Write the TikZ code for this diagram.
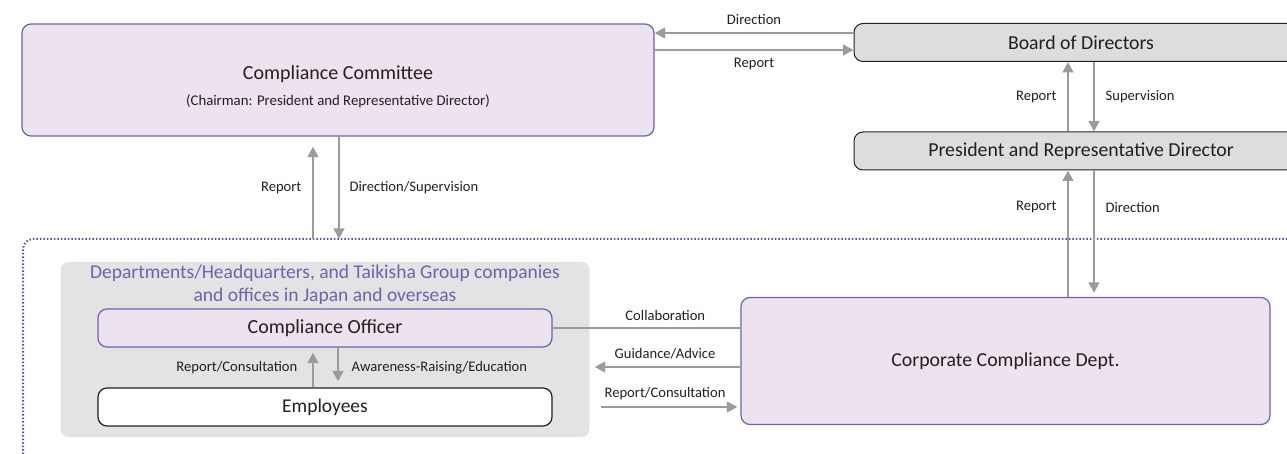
\documentclass[tikz,border=0pt]{standalone}
\usepackage{fontspec}
\setmainfont{Carlito}
\usetikzlibrary{arrows.meta,positioning,calc}
\definecolor{cpurple}{HTML}{EDE3EF}
\definecolor{cline}{HTML}{6B63AE}
\definecolor{cdots}{HTML}{5650A6}
\definecolor{cgray}{HTML}{DDDDDE}
\definecolor{cgroup}{HTML}{E3E3E4}
\definecolor{carrow}{HTML}{9B9B9D}
\definecolor{ctext}{HTML}{231F20}
\tikzset{
  purplebox/.style={rectangle, rounded corners=9, draw=cline, line width=1.2, fill=cpurple, text=ctext},
  graybox/.style={rectangle, rounded corners=9, draw=ctext, line width=1, fill=cgray, text=ctext},
  whitebox/.style={rectangle, rounded corners=9, draw=ctext, line width=1.2, fill=white, text=ctext},
  arr/.style={-{Triangle[width=10.5,length=10.5]}, carrow, line width=2.6},
  lbl/.style={font=\fontsize{14.6}{17}\selectfont, text=ctext},
}
\begin{document}
\begin{tikzpicture}[x=1pt,y=-1pt]
	\useasboundingbox (0,0) rectangle (1287,454);
	\node[purplebox, minimum width=632, minimum height=112, align=center, font=\fontsize{20}{24}\selectfont] (comm) at (338,80) {\rule{0pt}{27pt}Compliance Committee\\[2pt]{\fontsize{14.8}{17}\selectfont (Chairman: President and Representative Director)}};
	\node[graybox, minimum width=454, minimum height=38, font=\fontsize{19.8}{23}\selectfont] (board) at (1081,42.5) {Board of Directors};
	\node[graybox, minimum width=454, minimum height=38, font=\fontsize{19.8}{23}\selectfont] (pres) at (1081,151) {President and Representative Director};
	
	\coordinate (bound) at (23,239);
	\draw[cdots, line width=2, dash pattern=on 1.5pt off 2pt, rounded corners=10] (23,454) -- (bound) -- (1300,239);
	
	\node[rectangle, rounded corners=8, fill=cgroup, minimum width=529, minimum height=175] (group) at (325,349.5) {};
	\node[text=cline, align=center, font=\fontsize{19.5}{23}\selectfont] (grouptitle) at (325,284.5) {Departments/Headquarters, and Taikisha Group companies\\and offices in Japan and overseas};
	\node[purplebox, minimum width=454, minimum height=38, font=\fontsize{20}{23}\selectfont] (officer) at (325,328) {Compliance Officer};
	\node[whitebox, minimum width=454, minimum height=38, font=\fontsize{19.5}{23}\selectfont] (emp) at (325,407) {Employees};
	\node[purplebox, minimum width=529, minimum height=127, font=\fontsize{19.8}{23}\selectfont] (ccd) at (1005.5,361) {Corporate Compliance Dept.};
	
	\draw[arr] ([yshift=9.5]board.west) -- ([yshift=9.5]board.west -| comm.east) node[lbl, midway, above=4pt] {Direction};
	\draw[arr] ([yshift=-7.5]board.west -| comm.east) -- ([yshift=-7.5]board.west) node[lbl, midway, below=4pt] {Report};
	
	\draw[arr] ([xshift=-13]pres.north) -- ([xshift=-13]board.south) node[lbl, midway, left=7pt] {Report};
	\draw[arr] ([xshift=13]board.south) -- ([xshift=13]pres.north) node[lbl, midway, right=7pt] {Supervision};
	\draw[arr] ([xshift=-13]pres.south |- ccd.north) -- ([xshift=-13]pres.south) node[lbl, pos=0.71, left=7pt] {Report};
	\draw[arr, shorten >=4] ([xshift=13]pres.south) -- ([xshift=13]pres.south |- ccd.north) node[lbl, pos=0.29, right=7pt] {Direction};
	
	\draw[arr, shorten >=10] ([xshift=-25]comm.south |- bound) -- ([xshift=-25]comm.south) node[lbl, midway, left=7pt] {Report};
	\draw[arr] ([xshift=1]comm.south) -- ([xshift=1]comm.south |- bound) node[lbl, midway, right=6pt] {Direction/Supervision};
	
	\draw[arr, shorten >=5] ([xshift=-12]emp.north) -- ([xshift=-12]officer.south) node[lbl, midway, left=11pt] {Report/Consultation};
	\draw[arr, shorten >=6] ([xshift=13]officer.south) -- ([xshift=13]emp.north) node[lbl, midway, right=9pt] {Awareness-Raising/Education};
	
	\draw[carrow, line width=2.6] (officer.east) -- (officer.east -| ccd.west) node[lbl, pos=0.6, above=3pt] {Collaboration};
	\draw[arr, shorten >=5] ([yshift=-6]ccd.west) -- ([yshift=-6]ccd.west -| group.east) node[lbl, midway, above=3pt] {Guidance/Advice};
	\draw[arr, shorten <=11, shorten >=3] (group.east |- emp.east) -- (ccd.west |- emp.east) node[lbl, midway, above=3pt] {Report/Consultation};
\end{tikzpicture}
\end{document}
